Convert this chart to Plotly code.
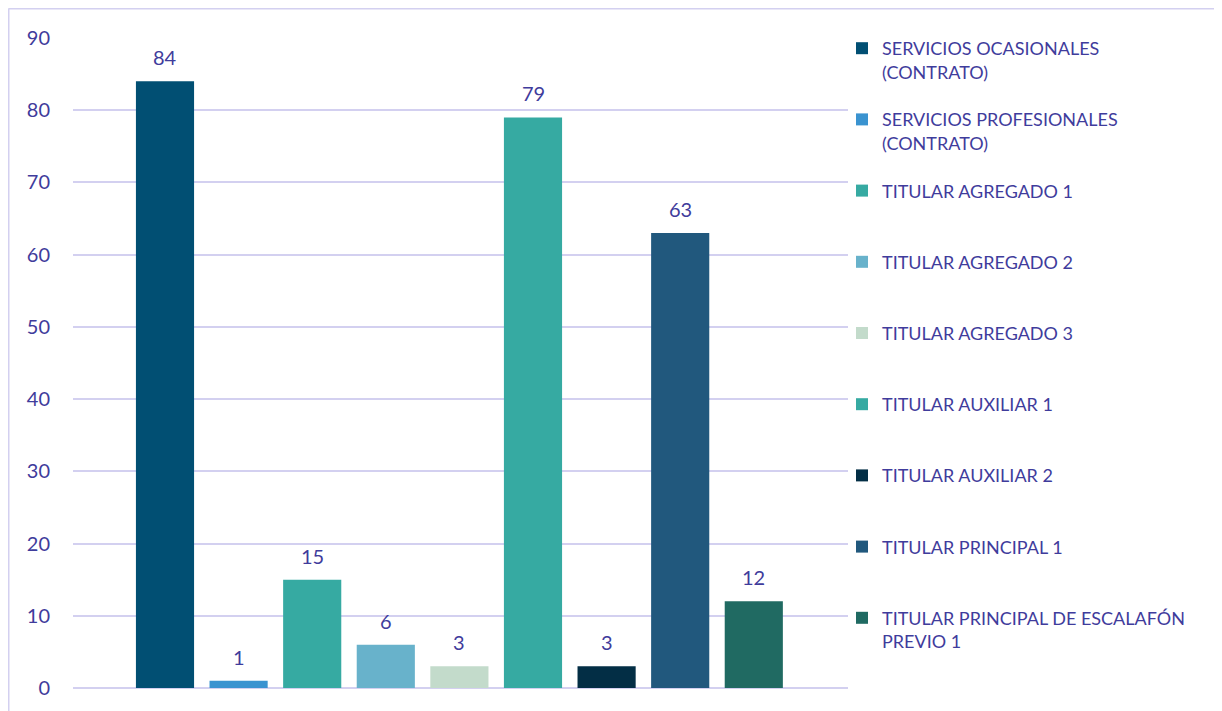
import plotly.graph_objects as go

categories = [
    "SERVICIOS OCASIONALES (CONTRATO)",
    "SERVICIOS PROFESIONALES (CONTRATO)",
    "TITULAR AGREGADO 1",
    "TITULAR AGREGADO 2",
    "TITULAR AGREGADO 3",
    "TITULAR AUXILIAR 1",
    "TITULAR AUXILIAR 2",
    "TITULAR PRINCIPAL 1",
    "TITULAR PRINCIPAL DE ESCALAFÓN PREVIO 1",
]
legend_labels = [
    "SERVICIOS OCASIONALES<br>(CONTRATO)",
    "SERVICIOS PROFESIONALES<br>(CONTRATO)",
    "TITULAR AGREGADO 1<br> ",
    "TITULAR AGREGADO 2<br> ",
    "TITULAR AGREGADO 3<br> ",
    "TITULAR AUXILIAR 1<br> ",
    "TITULAR AUXILIAR 2<br> ",
    "TITULAR PRINCIPAL 1<br> ",
    "TITULAR PRINCIPAL DE ESCALAFÓN<br>PREVIO 1",
]
values = [84, 1, 15, 6, 3, 79, 3, 63, 12]
colors = ["#014F73", "#3A93D0", "#36AAA2", "#68B2CB", "#C3DBCB",
          "#36AAA2", "#032E45", "#21587D", "#206A62"]

TXT = "#3F3C9C"
FONT = "Lato, Calibri, Carlito, sans-serif"

# page body margin offsets the figure by 8px
OFF = 8
W, H = 1222 - OFF, 711 - OFF
L, R, T, B = 73 - OFF, 848 - OFF, 38 - OFF, 688 - OFF

def px(x):
    return (x - OFF - L) / (R - L)

def py(y):
    return (B - (y - OFF)) / (B - T)

fig = go.Figure()
annotations = []
for i, (cat, lab, v, c) in enumerate(zip(categories, legend_labels, values, colors)):
    fig.add_trace(go.Bar(
        x=[i], y=[v], name=lab, legendgroup=f"g{i}", width=0.79,
        marker=dict(color=c, line=dict(width=0)),
        hovertemplate=cat + ": %{y}<extra></extra>",
    ))
    annotations.append(dict(
        x=i, y=v, xref="x", yref="y", text=str(v), showarrow=False,
        yanchor="middle", yshift=24,
        font=dict(size=20, color=TXT, family=FONT),
    ))

fig.update_layout(
    width=W, height=H,
    margin=dict(l=L, r=W - R, t=T, b=H - B, pad=0),
    paper_bgcolor="white", plot_bgcolor="white",
    barmode="overlay",
    font=dict(family=FONT, color=TXT, size=18),
    showlegend=True,
    legend=dict(
        x=px(842), y=py(30), xanchor="left", yanchor="top",
        traceorder="grouped", tracegroupgap=21.4, valign="top",
        maxheight=700,
        font=dict(size=18, color=TXT, family=FONT),
        bgcolor="rgba(0,0,0,0)", borderwidth=0,
    ),
    xaxis=dict(range=[-1.25, 9.28], showticklabels=False, showgrid=False,
               zeroline=False, showline=False, ticks=""),
    yaxis=dict(range=[0, 90], dtick=10, tick0=0, showgrid=True,
               gridcolor="#D3D0F0", gridwidth=2, zeroline=True,
               zerolinecolor="#D3D0F0", zerolinewidth=2, showline=False,
               ticks="", ticklabelstandoff=22,
               tickfont=dict(size=20, color=TXT, family=FONT)),
    annotations=annotations,
    shapes=[
        dict(type="line", xref="paper", yref="paper",
             x0=px(8.5), x1=px(1222), y0=py(8.5), y1=py(8.5),
             line=dict(color="#D3D0F0", width=2)),
        dict(type="line", xref="paper", yref="paper",
             x0=px(8.5), x1=px(8.5), y0=py(8.5), y1=py(715),
             line=dict(color="#D3D0F0", width=2)),
    ],
)

fig.write_html("out.html")
